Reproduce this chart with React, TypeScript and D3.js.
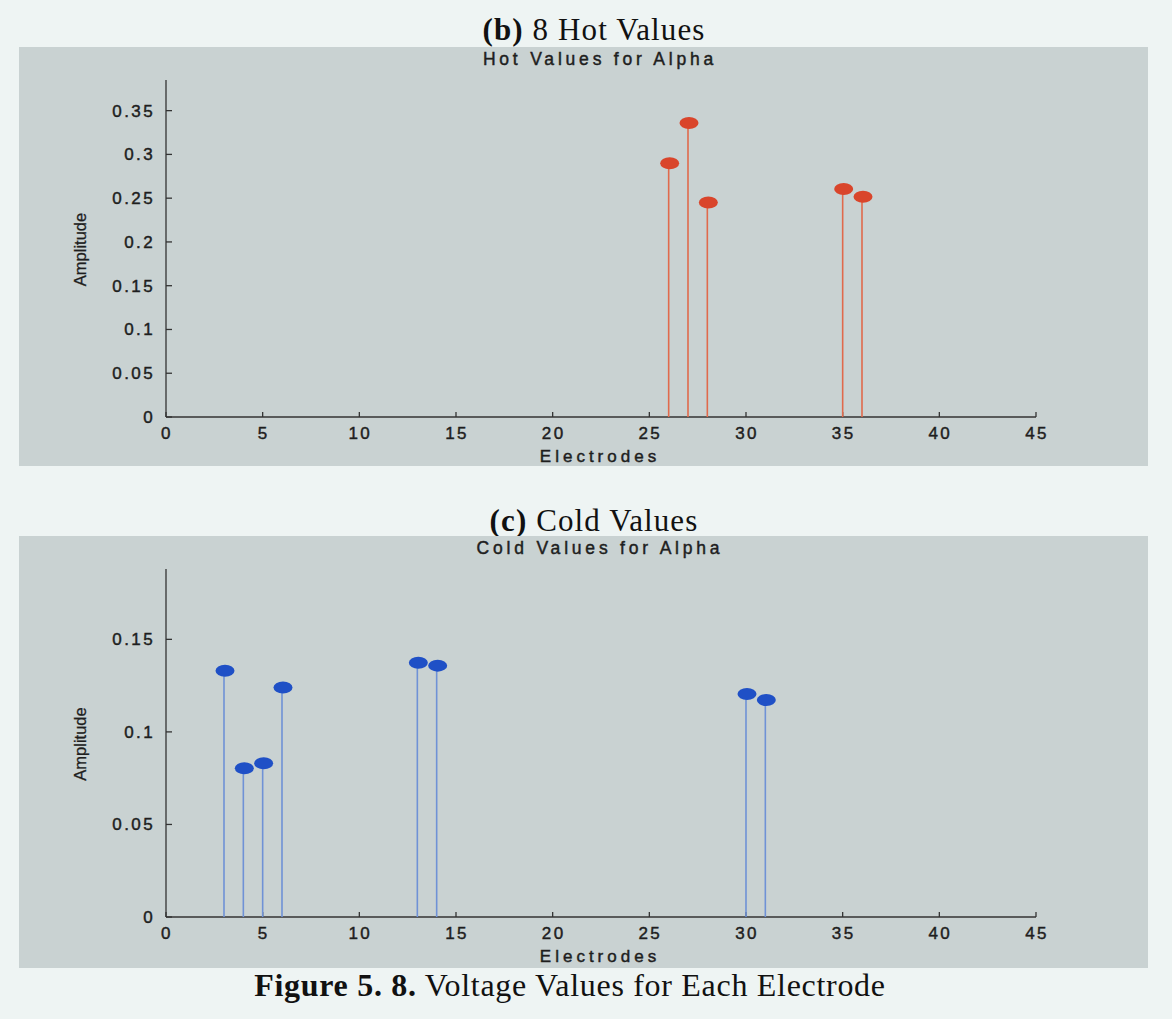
import React from "react";
import * as d3 from "d3";

const hotElectrodes = [26, 27, 28, 35, 36];
const hotValues = [0.29, 0.336, 0.245, 0.2605, 0.2515];
const coldElectrodes = [3, 4, 5, 6, 13, 14, 30, 31];
const coldValues = [0.133, 0.0803, 0.083, 0.124, 0.1374, 0.1358, 0.1205, 0.1172];
const xTicks = [0, 5, 10, 15, 20, 25, 30, 35, 40, 45];
const hotYTicks = [0, 0.05, 0.1, 0.15, 0.2, 0.25, 0.3, 0.35];
const hotYLabels = ["0", "0.05", "0.1", "0.15", "0.2", "0.25", "0.3", "0.35"];
const coldYTicks = [0, 0.05, 0.1, 0.15];
const coldYLabels = ["0", "0.05", "0.1", "0.15"];

const W = 1172;
const H = 1019;
const SANS = "Liberation Sans, Arial, sans-serif";
const SERIF = "Liberation Serif, Times New Roman, serif";

type PanelProps = {
  panelTop: number;
  panelBottom: number;
  axisTop: number;
  axisBottom: number;
  yMax: number;
  yTicks: number[];
  yLabels: string[];
  xs: number[];
  ys: number[];
  stemColor: string;
  dotColor: string;
  heading: React.ReactNode;
  headingY: number;
  subtitle: string;
};

function Panel(p: PanelProps) {
  const x = d3.scaleLinear().domain([0, 45]).range([166, 1036]);
  const y = d3.scaleLinear().domain([0, p.yMax]).range([p.axisBottom, p.axisTop]);
  const ink = "#1e1e1e";
  const heavy = { stroke: ink, strokeWidth: 0.45 };
  return (
    <g>
      <text x={594} y={p.headingY} textAnchor="middle" fontFamily={SERIF} fontSize={31} letterSpacing={1.1} fill="#111">
        {p.heading}
      </text>
      <rect x={19} y={p.panelTop} width={1129} height={p.panelBottom - p.panelTop} fill="#c9d2d2" />
      <text x={600} y={p.panelTop + 18} textAnchor="middle" fontFamily={SANS} fontSize={17.5} letterSpacing={3.8} fill={ink} {...heavy}>
        {p.subtitle}
      </text>
      {/* axes */}
      <line x1={x(0)} x2={x(0)} y1={p.axisTop} y2={p.axisBottom} stroke="#333" strokeWidth={1.3} />
      <line x1={x(0)} x2={x(45)} y1={p.axisBottom} y2={p.axisBottom} stroke="#333" strokeWidth={1.3} />
      {p.yTicks.map((t, i) => (
        <g key={"y" + i}>
          <line x1={x(0)} x2={x(0) + 6} y1={y(t)} y2={y(t)} stroke="#333" strokeWidth={1.3} />
          <text x={155} y={y(t) + 6} textAnchor="end" fontFamily={SANS} fontSize={17} letterSpacing={2.4} fill={ink} {...heavy}>
            {p.yLabels[i]}
          </text>
        </g>
      ))}
      {xTicks.map((t) => (
        <g key={"x" + t}>
          <line x1={x(t)} x2={x(t)} y1={p.axisBottom} y2={p.axisBottom - 5} stroke="#333" strokeWidth={1.3} />
          <text x={x(t) + 1} y={p.axisBottom + 22} textAnchor="middle" fontFamily={SANS} fontSize={17} letterSpacing={2.4} fill={ink} {...heavy}>
            {t}
          </text>
        </g>
      ))}
      <text x={600} y={p.axisBottom + 45} textAnchor="middle" fontFamily={SANS} fontSize={17} letterSpacing={4} fill={ink} {...heavy}>
        Electrodes
      </text>
      <text
        transform={`translate(86, ${(p.axisTop + p.axisBottom) / 2 + 1}) rotate(-90)`}
        textAnchor="middle"
        fontFamily={SANS}
        fontSize={16.5}
        fill={ink}
        stroke={ink}
        strokeWidth={0.3}
      >
        Amplitude
      </text>
      {/* stems */}
      {p.xs.map((e, i) => (
        <line key={"s" + i} x1={x(e)} x2={x(e)} y1={p.axisBottom} y2={y(p.ys[i])} stroke={p.stemColor} strokeWidth={1.6} />
      ))}
      {p.xs.map((e, i) => (
        <ellipse key={"d" + i} cx={x(e) + 1} cy={y(p.ys[i])} rx={9.5} ry={6} fill={p.dotColor} />
      ))}
    </g>
  );
}

export default function App() {
  return (
    <svg width={W} height={H} style={{ position: "absolute", left: 0, top: 0, display: "block" }}>
      <rect x={0} y={0} width={W} height={H} fill="#eef4f3" />
      <Panel
        panelTop={47}
        panelBottom={466}
        axisTop={80}
        axisBottom={417}
        yMax={0.385}
        yTicks={hotYTicks}
        yLabels={hotYLabels}
        xs={hotElectrodes}
        ys={hotValues}
        stemColor="#e06a4c"
        dotColor="#d9452b"
        heading={
          <>
            <tspan fontWeight="bold">(b)</tspan> 8 Hot Values
          </>
        }
        headingY={40}
        subtitle="Hot Values for Alpha"
      />
      <Panel
        panelTop={536}
        panelBottom={968}
        axisTop={569}
        axisBottom={917}
        yMax={0.188}
        yTicks={coldYTicks}
        yLabels={coldYLabels}
        xs={coldElectrodes}
        ys={coldValues}
        stemColor="#6f92d6"
        dotColor="#1f50c6"
        heading={
          <>
            <tspan fontWeight="bold">(c)</tspan> Cold Values
          </>
        }
        headingY={531}
        subtitle="Cold Values for Alpha"
      />
      <text x={570} y={996} textAnchor="middle" fontFamily={SERIF} fontSize={32} letterSpacing={0.7} fill="#111">
        <tspan fontWeight="bold">Figure 5. 8.</tspan> Voltage Values for Each Electrode
      </text>
    </svg>
  );
}
